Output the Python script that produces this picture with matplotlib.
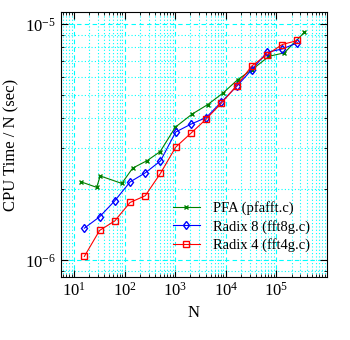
import matplotlib
matplotlib.use('Agg')
import matplotlib.pyplot as plt

plt.rcParams['font.family'] = ['Liberation Serif', 'DejaVu Serif']
plt.rcParams['mathtext.fontset'] = 'stix'

# PFA (pfafft.c)
n_pfa = [14, 28, 33, 88, 144, 280, 504, 1008, 2160, 4368, 8736, 17160, 32760, 72072, 144144, 360360]
t_pfa = [2.15e-6, 2.04e-6, 2.28e-6, 2.12e-6, 2.46e-6, 2.65e-6, 2.89e-6, 3.67e-6,
         4.17e-6, 4.57e-6, 5.11e-6, 5.83e-6, 6.43e-6, 7.33e-6, 7.58e-6, 9.27e-6]

# power-of-two sizes for radix 8 and radix 4
n_pow2 = [16, 32, 64, 128, 256, 512, 1024, 2048, 4096, 8192, 16384, 32768, 65536, 131072, 262144]
t_fft8 = [1.37e-6, 1.53e-6, 1.79e-6, 2.15e-6, 2.35e-6, 2.64e-6, 3.50e-6, 3.78e-6,
          4.03e-6, 4.69e-6, 5.46e-6, 6.43e-6, 7.62e-6, 7.87e-6, 8.36e-6]
t_fft4 = [1.04e-6, 1.34e-6, 1.47e-6, 1.76e-6, 1.88e-6, 2.34e-6, 3.02e-6, 3.46e-6,
          3.97e-6, 4.64e-6, 5.50e-6, 6.67e-6, 7.45e-6, 8.22e-6, 8.55e-6]

fig = plt.figure(figsize=(3.5, 3.4), dpi=100)
ax = fig.add_axes([0.174, 0.185, 0.76, 0.78])

ax.plot(n_pfa, t_pfa, color='#008000', marker='x', markersize=3.5, lw=0.8,
        label='PFA (pfafft.c)')
ax.plot(n_pow2, t_fft8, color='#0000ff', marker='d', markersize=4.5, lw=0.8,
        fillstyle='none', label='Radix 8 (fft8g.c)')
ax.plot(n_pow2, t_fft4, color='#ff0000', marker='s', markersize=4, lw=0.8,
        fillstyle='none', label='Radix 4 (fft4g.c)')

ax.set_xscale('log')
ax.set_yscale('log')
ax.set_xlim(5.5, 1e6)
ax.set_ylim(8.5e-7, 1.13e-5)
ax.set_xticks([1e1, 1e2, 1e3, 1e4, 1e5])
ax.set_yticks([1e-6, 1e-5])

ax.grid(True, which='major', color='#00ffff', linestyle=(0, (4, 3)), lw=0.8)
ax.grid(True, which='minor', color='#00ffff', linestyle=(0, (1, 2)), lw=0.8)
ax.tick_params(which='both', direction='in', top=True, right=True, labelsize=12)
ax.tick_params(which='major', length=5)
ax.tick_params(which='minor', length=2.5)

ax.set_xlabel('N', fontsize=12)
ax.set_ylabel('CPU Time / N (sec)', fontsize=12)

ax.legend(loc='center left', bbox_to_anchor=(0.421, 0.19), frameon=False,
          fontsize=10.5, handlelength=1.85, handletextpad=0.9,
          borderpad=0, borderaxespad=0, labelspacing=0.3)

fig.savefig('out.png', dpi=100)
